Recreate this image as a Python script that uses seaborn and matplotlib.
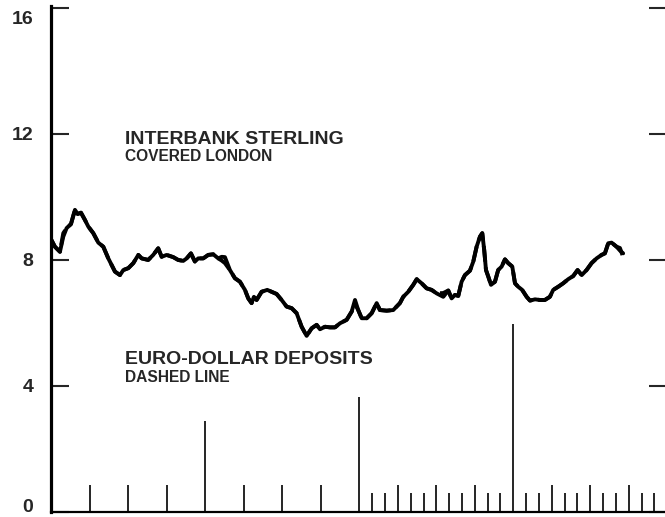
import matplotlib
matplotlib.use("Agg")
import matplotlib.pyplot as plt
import matplotlib.transforms as mtransforms
import numpy as np
import pandas as pd
import seaborn as sns

# months from start of the chart (4 years shown, 48 months)
months = [0.00, 0.27, 0.66, 0.92, 1.18, 1.52, 1.83, 2.04, 2.30, 2.61, 2.87, 3.26, 3.65, 4.04,
          4.43, 4.95, 5.34, 5.60, 5.99, 6.38, 6.77, 7.03, 7.54, 7.93, 8.32, 8.59, 8.98, 9.49,
          9.88, 10.27, 10.54, 10.87, 11.18, 11.44, 11.83, 12.22, 12.61, 13.00, 13.27, 13.52,
          13.91, 14.30, 14.69, 15.08, 15.34, 15.60, 15.78, 15.99, 16.38, 16.82, 17.16, 17.55,
          17.94, 18.33, 18.72, 19.11, 19.50, 19.89, 20.28, 20.67, 20.93, 21.32, 21.71, 22.10,
          22.49, 23.01, 23.40, 23.66, 23.91, 24.18, 24.57, 24.96, 25.35, 25.60, 26.13, 26.64,
          27.16, 27.42, 27.81, 28.20, 28.47, 28.85, 29.24, 29.63, 30.02, 30.54, 30.93, 31.19,
          31.45, 31.71, 31.97, 32.23, 32.62, 32.88, 33.14, 33.40, 33.58, 33.73, 33.87, 34.05,
          34.26, 34.57, 34.82, 35.09, 35.35, 35.60, 35.92, 36.13, 36.38, 36.69, 37.04, 37.30,
          37.69, 38.07, 38.46, 38.85, 39.11, 39.50, 39.89, 40.28, 40.67, 41.01, 41.33, 41.71,
          42.10, 42.49, 42.88, 43.14, 43.40, 43.66, 44.05, 44.31, 44.56]

sterling = [8.63, 8.42, 8.26, 8.74, 9.01, 9.14, 9.59, 9.46, 9.50, 9.27, 9.06, 8.85, 8.55, 8.42,
            8.05, 7.63, 7.52, 7.68, 7.74, 7.90, 8.16, 8.05, 8.00, 8.16, 8.37, 8.10, 8.16, 8.09,
            8.00, 7.97, 8.05, 8.21, 7.95, 8.05, 8.05, 8.16, 8.18, 8.05, 8.10, 8.09,
            7.68, 7.42, 7.31, 7.05, 6.78, 6.63, 6.83, 6.73, 6.99, 7.05, 6.99, 6.92,
            6.73, 6.52, 6.47, 6.31, 5.88, 5.59, 5.83, 5.94, 5.80, 5.88, 5.86, 5.86,
            5.99, 6.10, 6.36, 6.73, 6.41, 6.15, 6.15, 6.31, 6.63, 6.41, 6.39, 6.41,
            6.63, 6.83, 6.99, 7.21, 7.39, 7.26, 7.10, 7.05, 6.94, 6.83, 7.03, 6.78,
            6.89, 6.86, 7.31, 7.52, 7.66, 7.95, 8.42, 8.74, 8.85, 8.32, 7.68, 7.47,
            7.21, 7.31, 7.68, 7.79, 8.02, 7.90, 7.79, 7.26, 7.15, 7.05, 6.83, 6.71,
            6.75, 6.73, 6.73, 6.83, 7.05, 7.15, 7.26, 7.39, 7.49, 7.68, 7.52, 7.68,
            7.90, 8.05, 8.16, 8.21, 8.53, 8.55, 8.42, 8.30, 8.21]

eurodollar = [8.63, 8.42, 8.26, 8.85, 9.01, 9.14, 9.59, 9.46, 9.50, 9.27, 9.06, 8.85, 8.55, 8.42,
              8.05, 7.63, 7.52, 7.68, 7.74, 7.90, 8.16, 8.05, 8.00, 8.16, 8.37, 8.10, 8.16, 8.09,
              8.00, 7.97, 8.05, 8.21, 7.95, 8.05, 8.05, 8.16, 8.18, 8.05, 7.98, 7.90,
              7.68, 7.42, 7.31, 7.05, 6.78, 6.63, 6.83, 6.73, 6.99, 7.05, 6.99, 6.92,
              6.73, 6.52, 6.47, 6.31, 5.88, 5.59, 5.83, 5.94, 5.80, 5.88, 5.86, 5.86,
              5.99, 6.10, 6.36, 6.60, 6.41, 6.15, 6.15, 6.31, 6.63, 6.41, 6.39, 6.41,
              6.63, 6.83, 6.99, 7.21, 7.39, 7.26, 7.10, 7.05, 6.94, 6.95, 7.03, 6.78,
              6.89, 6.86, 7.31, 7.52, 7.66, 7.95, 8.42, 8.74, 8.85, 8.32, 7.68, 7.47,
              7.21, 7.31, 7.68, 7.79, 8.02, 7.90, 7.79, 7.26, 7.15, 7.05, 6.83, 6.71,
              6.75, 6.73, 6.73, 6.83, 7.05, 7.15, 7.26, 7.39, 7.49, 7.68, 7.52, 7.68,
              7.90, 8.05, 8.16, 8.21, 8.53, 8.55, 8.42, 8.38, 8.10]

# time markers rising from the baseline: month and height
marker_months = [3, 6, 9, 12, 15, 18, 21, 24,
                 25, 26, 27, 28, 29, 30, 31, 32, 33, 34, 35, 36,
                 37, 38, 39, 40, 41, 42, 43, 44, 45, 46, 47]
marker_heights = [0.86, 0.86, 0.86, 2.9, 0.86, 0.86, 0.86, 3.65,
                  0.6, 0.6, 0.86, 0.6, 0.6, 0.86, 0.6, 0.6, 0.86, 0.6, 0.6, 5.97,
                  0.6, 0.6, 0.86, 0.6, 0.6, 0.86, 0.6, 0.6, 0.86, 0.6, 0.6]

y_ticks = [0, 4, 8, 12, 16]

df = pd.concat([
    pd.DataFrame({"month": months, "rate": sterling, "series": "sterling"}),
    pd.DataFrame({"month": months, "rate": eurodollar, "series": "eurodollar"}),
], ignore_index=True)

sns.set_style("white")
plt.rcParams["font.family"] = ["Liberation Sans", "DejaVu Sans"]

fig = plt.figure(figsize=(6.65, 5.17), dpi=100)
ax = fig.add_axes([0.0774, 0.0097, 0.926, 0.978])

sns.lineplot(data=df, x="month", y="rate", hue="series", style="series",
             palette={"sterling": "black", "eurodollar": "black"},
             dashes={"sterling": "", "eurodollar": (4, 1.5)},
             estimator=None, sort=False, linewidth=2.8, legend=False, ax=ax)

ax.vlines(marker_months, 0, marker_heights, colors="black", linewidth=1.2)

ax.set_xlim(0, 48)
ax.set_ylim(0, 16.05)
ax.set_xticks([])
ax.set_yticks(y_ticks)
ax.set_yticklabels([str(t) for t in y_ticks], fontsize=14, fontweight="bold")
ax.set_yticks([16], minor=True)
ax.tick_params(axis="y", which="major", direction="in", length=13, width=1.5,
               left=True, right=True, pad=13)
ax.tick_params(axis="y", which="minor", direction="in", length=20, width=2.4,
               left=True, right=True)
ax.set_xlabel("")
ax.set_ylabel("")

# nudge the end labels inside the figure, as on the original
labels = ax.get_yticklabels()
labels[0].set_transform(labels[0].get_transform() +
                        mtransforms.ScaledTranslation(0, 5 / 72, fig.dpi_scale_trans))
labels[-1].set_transform(labels[-1].get_transform() +
                         mtransforms.ScaledTranslation(0, -7 / 72, fig.dpi_scale_trans))

for side in ["top", "right"]:
    ax.spines[side].set_visible(False)
ax.spines["left"].set_linewidth(2.3)
ax.spines["left"].set_color("black")
ax.spines["bottom"].set_linewidth(1.6)
ax.spines["bottom"].set_color("black")

ax.text(5.73, 11.82, "INTERBANK STERLING", fontsize=14, fontweight="bold", va="center")
ax.text(5.73, 11.27, "COVERED LONDON", fontsize=11.2, fontweight="bold", va="center")
ax.text(5.73, 4.83, "EURO-DOLLAR DEPOSITS", fontsize=14, fontweight="bold", va="center")
ax.text(5.73, 4.26, "DASHED LINE", fontsize=11.2, fontweight="bold", va="center")

fig.savefig("out.png", dpi=100)
